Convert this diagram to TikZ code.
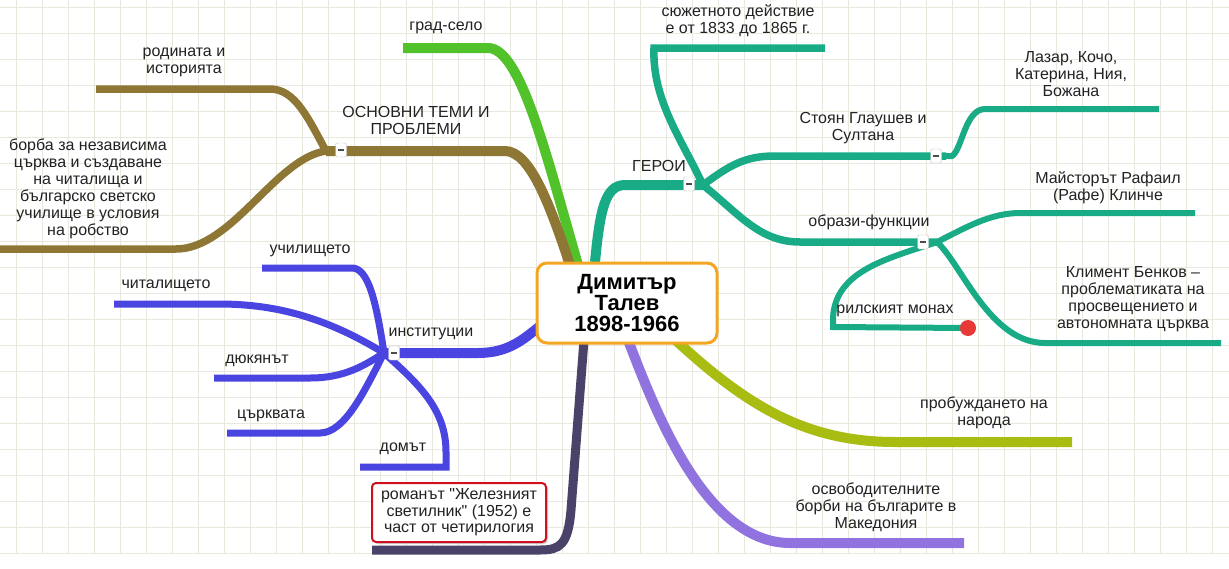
\documentclass[tikz,border=0pt]{standalone}
\usepackage{fontspec}
\setmainfont{Liberation Sans}[Ligatures=TeXOff]
\usetikzlibrary{shadows}
\definecolor{cgreen}{HTML}{52C22B}
\definecolor{cbrown}{HTML}{8E7735}
\definecolor{cteal}{HTML}{18AB86}
\definecolor{cblue}{HTML}{4A45E0}
\definecolor{cdark}{HTML}{4A4268}
\definecolor{colive}{HTML}{A9BC12}
\definecolor{cpurple}{HTML}{9073DE}
\definecolor{corange}{HTML}{F4A622}
\definecolor{cred}{HTML}{D0101E}
\definecolor{cgrid}{HTML}{E8E8DE}
\definecolor{cdot}{HTML}{E83838}
\definecolor{ctext}{HTML}{222222}
\begin{document}
\begin{tikzpicture}[x=1pt,y=-1pt,
  mainb/.style={line width=10pt},
  subb/.style={line width=7.5pt},
  subsub/.style={line width=6pt},
  lbl/.style={font=\fontsize{16}{17}\selectfont, align=center, inner sep=0pt, text=ctext, yshift=-2.5pt},
  minusbox/.style={draw=black!25, fill=white, rounded corners=2pt, minimum width=11pt, minimum height=14pt, inner sep=0pt,
    path picture={\draw[line width=2pt, black!70] ([xshift=-3pt]path picture bounding box.center) -- ([xshift=3pt]path picture bounding box.center);}},
  gridline/.style={draw=cgrid, line width=0.9pt}
]
\useasboundingbox (0,0) rectangle (1229,568);
\fill[white] (0,0) rectangle (1229,568);
% grid
\foreach \i in {0,...,46} \draw[gridline] (16.7+26*\i,0) -- (16.7+26*\i,553.3);
\foreach \j in {0,...,21} \draw[gridline] (0,7.3+26*\j) -- (1229,7.3+26*\j);

% coordinates
\coordinate (cGreen) at (578,265);
\coordinate (cBrown) at (570,265);
\coordinate (cTeal) at (595,262);
\coordinate (cBlue) at (545,322);
\coordinate (cDark) at (584,340);
\coordinate (cOlive) at (670,335);
\coordinate (cPurple) at (628,340);
\coordinate (kBrown) at (326,151);
\coordinate (kBlue) at (384,353);
\coordinate (kTeal) at (703,185);
\coordinate (kStoyan) at (946,156);
\coordinate (kObrazi) at (937,242);
\coordinate (eGrad) at (403,48);
\coordinate (eRod) at (96,89);
\coordinate (eBorba) at (0,249);
\coordinate (eUch) at (262,268);
\coordinate (eChit) at (114,304);
\coordinate (eDyuk) at (214,378);
\coordinate (eTsar) at (227,433);
\coordinate (eDom) at (360,467);
\coordinate (eRoman) at (372,550);
\coordinate (eSyuzh) at (825,48);
\coordinate (eLazar) at (1159,109);
\coordinate (eMaist) at (1195,213);
\coordinate (eKlim) at (1221,343);
\coordinate (eRilski) at (968,328);
\coordinate (eProb) at (1072,442);
\coordinate (eOsv) at (964,543);

% green
\draw[mainb,cgreen] (eGrad) -- (488,48) .. controls (520,48) and (545,150) .. (cGreen);
% brown
\draw[mainb,cbrown] (kBrown) -- (505,151) .. controls (530,151) and (550,205) .. (cBrown);
\draw[subb,cbrown] (eRod) -- (270,89) .. controls (295,89) and (308,118) .. (kBrown);
\draw[subb,cbrown] (eBorba) -- (176,249) .. controls (232,249) and (276,158) .. (kBrown);
% blue
\draw[mainb,cblue] (kBlue) -- (478,353) .. controls (510,353) and (525,338) .. (cBlue);
\draw[line width=7pt,cblue] (eUch) -- (352,268) .. controls (368,268) and (376,300) .. (kBlue);
\draw[line width=7pt,cblue] (eChit) -- (219,304) .. controls (280,304) and (330,320) .. (kBlue);
\draw[line width=7pt,cblue] (eDyuk) -- (310,378) .. controls (345,378) and (365,365) .. (kBlue);
\draw[line width=7pt,cblue] (eTsar) -- (320,433) .. controls (345,433) and (365,390) .. (kBlue);
\draw[line width=7pt,cblue] (eDom) -- (446,467) -- (446,452) .. controls (446,410) and (420,385) .. (kBlue);
% dark
\draw[line width=9pt,cdark] (cDark) -- (571,510) .. controls (568,545) and (560,550) .. (540,550) -- (eRoman);
% teal
\draw[mainb,cteal] (cTeal) .. controls (600,210) and (605,185) .. (625,185) -- (kTeal);
\draw[subb,cteal] (eSyuzh) -- (654,48) .. controls (652,100) and (682,140) .. (kTeal);
\draw[subb,cteal] (kTeal) .. controls (730,165) and (745,156) .. (775,156) -- (kStoyan);
\draw[subsub,cteal] (kStoyan) -- (952,156) .. controls (962,150) and (965,109) .. (985,109) -- (eLazar);
\draw[subb,cteal] (kTeal) .. controls (740,215) and (760,242) .. (800,242) -- (kObrazi);
\draw[subsub,cteal] (kObrazi) .. controls (965,228) and (990,213) .. (1020,213) -- (eMaist);
\draw[subsub,cteal] (kObrazi) .. controls (962,265) and (990,343) .. (1045,343) -- (eKlim);
\draw[subsub,cteal] (eRilski) -- (833,327) -- (833,318) .. controls (835,270) and (890,258) .. (kObrazi);
% olive
\draw[mainb,colive] (cOlive) .. controls (740,400) and (800,442) .. (895,442) -- (eProb);
% purple
\draw[mainb,cpurple] (cPurple) .. controls (655,410) and (705,543) .. (790,543) -- (eOsv);

% red dot
\fill[cdot] (eRilski) circle (8pt);

% center node
\node[draw=corange, line width=3pt, rounded corners=10pt, fill=white, minimum width=180pt, minimum height=80pt,
  align=center, inner sep=0pt, font=\fontsize{22}{21}\selectfont\bfseries] (center) at (627,303) {Димитър\\Талев\\ 1898-1966};

% red callout
\node[draw=cred, line width=2pt, rounded corners=4pt, fill=white, minimum width=174pt, minimum height=59pt,
  drop shadow={opacity=0.35, shadow xshift=2pt, shadow yshift=-2pt}, align=center, inner sep=0pt,
  font=\fontsize{16}{16.5}\selectfont, text=ctext] (roman) at (459,512.5) {романът "Железният\\светилник" (1952) е\\част от четирилогия};

% minus boxes
\node[minusbox] (mBrown) at (341,150) {};
\node[minusbox] (mBlue) at (394,353) {};
\node[minusbox] (mTeal) at (689,184) {};
\node[minusbox] (mStoyan) at (936,156) {};
\node[minusbox] (mObrazi) at (923,242) {};

% labels
\node[lbl] (tGrad) at (446,25) {град-село};
\node[lbl] (tRod) at (184,60) {родината и\\историята};
\node[lbl] (tOsn) at (416,118) {ОСНОВНИ ТЕМИ И\\ПРОБЛЕМИ};
\node[lbl] (tBorba) at (88,186) {борба за независима\\църква и създаване\\на читалища и\\българско светско\\училище в условия\\на робство};
\node[lbl] (tUch) at (310,248) {училището};
\node[lbl] (tChit) at (166,283) {читалището};
\node[lbl] (tInst) at (431,331) {институции};
\node[lbl] (tDyuk) at (257,358) {дюкянът};
\node[lbl] (tTsar) at (271,413) {църквата};
\node[lbl] (tDom) at (403,446) {домът};
\node[lbl] (tSyuzh) at (738,18.5) {сюжетното действие\\е от 1833 до 1865 г.};
\node[lbl] (tGeroi) at (659,163) {ГЕРОИ};
\node[lbl] (tStoyan) at (863,125.5) {Стоян Глаушев и\\Султана};
\node[lbl] (tLazar) at (1071,72) {Лазар, Кочо,\\Катерина, Ния,\\Божана};
\node[lbl] (tMaist) at (1108,185) {Майсторът Рафаил\\(Рафе) Клинче};
\node[lbl] (tObrazi) at (869,220) {образи-функции};
\node[lbl] (tKlim) at (1133,297) {Климент Бенков –\\проблематиката на\\просвещението и\\автономната църква};
\node[lbl] (tRilski) at (895,308) {рилският монах};
\node[lbl] (tProb) at (984,410.5) {пробуждането на\\народа};
\node[lbl] (tOsv) at (876,505) {освободителните\\борби на българите в\\Македония};
\end{tikzpicture}
\end{document}
